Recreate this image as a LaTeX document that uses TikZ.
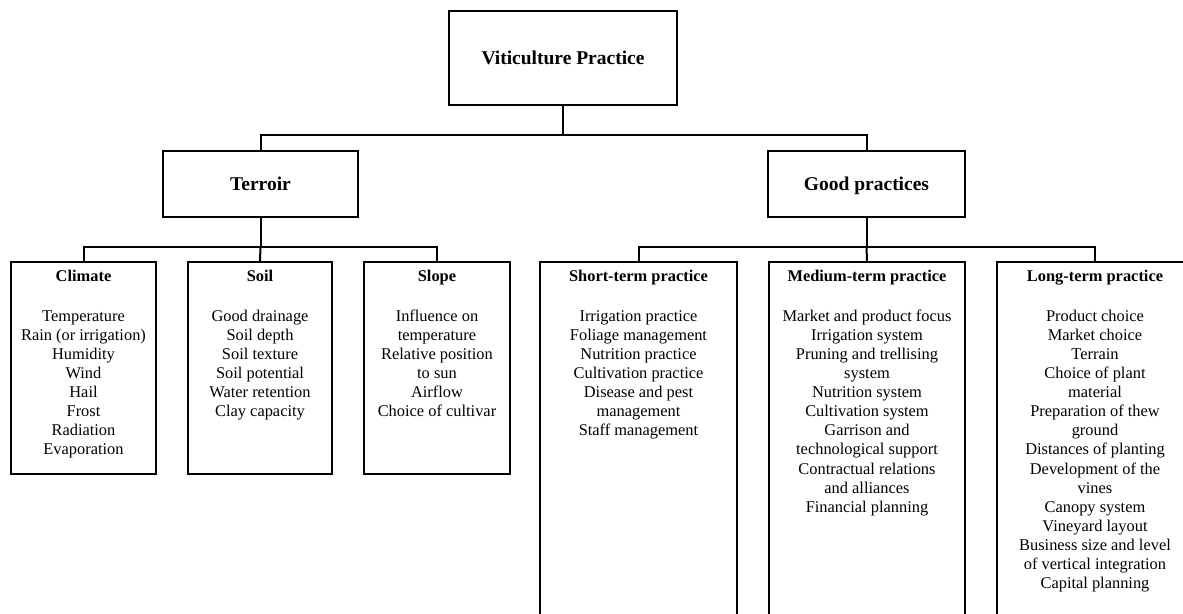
\documentclass[tikz,border=0pt]{standalone}
\usepackage{fontspec}
\setmainfont{Liberation Serif}
\begin{document}
\begin{tikzpicture}[x=1pt,y=-1pt,
  frame/.style={draw=black,line width=1.8pt,fill=white,inner sep=0pt},
  mainbox/.style={frame,font=\fontsize{19.5}{23}\selectfont\bfseries,
    text height=13.5pt,text depth=0pt},
  leafbox/.style={frame},
  leaftext/.style={anchor=north,inner sep=0pt,align=center,
    font=\fontsize{16.4}{19.1}\selectfont},
  link/.style={draw=black,line width=2pt}]
\useasboundingbox (0,0) rectangle (1183,613);
\clip (0,0) rectangle (1183,613);

% top level
\node[mainbox,minimum width=228pt,minimum height=94pt] (vp) at (563,58) {Viticulture Practice};

% second level
\node[mainbox,minimum width=195pt,minimum height=66pt] (terroir) at (260.5,184) {Terroir};
\node[mainbox,minimum width=197pt,minimum height=66pt] (good) at (866.5,184) {Good practices};

% terroir factors
\node[leafbox,minimum width=145pt,minimum height=212pt] (climate) at (83.5,368) {};
\node[leafbox,minimum width=144pt,minimum height=212pt] (soil) at (260,368) {};
\node[leafbox,minimum width=146pt,minimum height=212pt] (slope) at (437,368) {};

% good practices (boxes run past the lower edge)
\node[leafbox,minimum width=197pt,minimum height=400pt] (short) at (638.5,462) {};
\node[leafbox,minimum width=196pt,minimum height=400pt] (medium) at (867,462) {};
\node[leafbox,minimum width=196pt,minimum height=400pt] (long) at (1095,462) {};

% box contents
\node[leaftext] (climate-t) at ([yshift=-8.5pt]climate.north) {\textbf{Climate}\\[21pt]
  Temperature\\Rain (or irrigation)\\Humidity\\Wind\\Hail\\Frost\\Radiation\\Evaporation};
\node[leaftext] (soil-t) at ([yshift=-8.5pt]soil.north) {\textbf{Soil}\\[21pt]
  Good drainage\\Soil depth\\Soil texture\\Soil potential\\Water retention\\Clay capacity};
\node[leaftext] (slope-t) at ([yshift=-8.5pt]slope.north) {\textbf{Slope}\\[21pt]
  Influence on\\temperature\\Relative position\\to sun\\Airflow\\Choice of cultivar};
\node[leaftext] (short-t) at ([yshift=-8.5pt]short.north) {\textbf{Short-term practice}\\[21pt]
  Irrigation practice\\Foliage management\\Nutrition practice\\Cultivation practice\\
  Disease and pest\\management\\Staff management};
\node[leaftext] (medium-t) at ([yshift=-8.5pt]medium.north) {\textbf{Medium-term practice}\\[21pt]
  Market and product focus\\Irrigation system\\Pruning and trellising\\system\\
  Nutrition system\\Cultivation system\\Garrison and\\technological support\\
  Contractual relations\\and alliances\\Financial planning};
\node[leaftext] (long-t) at ([yshift=-8.5pt]long.north) {\textbf{Long-term practice}\\[21pt]
  Product choice\\Market choice\\Terrain\\Choice of plant\\material\\
  Preparation of thew\\ground\\Distances of planting\\Development of the\\vines\\
  Canopy system\\Vineyard layout\\Business size and level\\of vertical integration\\
  Capital planning};

% junction points of the tree
\coordinate (j1) at (563,135);
\coordinate (j2) at (260.5,247);
\coordinate (j3) at (866.5,247);

% connectors
\draw[link] (vp.south) -- (j1);
\draw[link] (terroir.north) |- (j1) -| (good.north);
\draw[link] (terroir.south) -- (j2);
\draw[link] (climate.north) |- (j2) -| (slope.north);
\draw[link] (j2) -- (soil.north);
\draw[link] (good.south) -- (j3);
\draw[link] (short.north) |- (j3) -| (long.north);
\draw[link] (j3) -- (medium.north);
\end{tikzpicture}
\end{document}
